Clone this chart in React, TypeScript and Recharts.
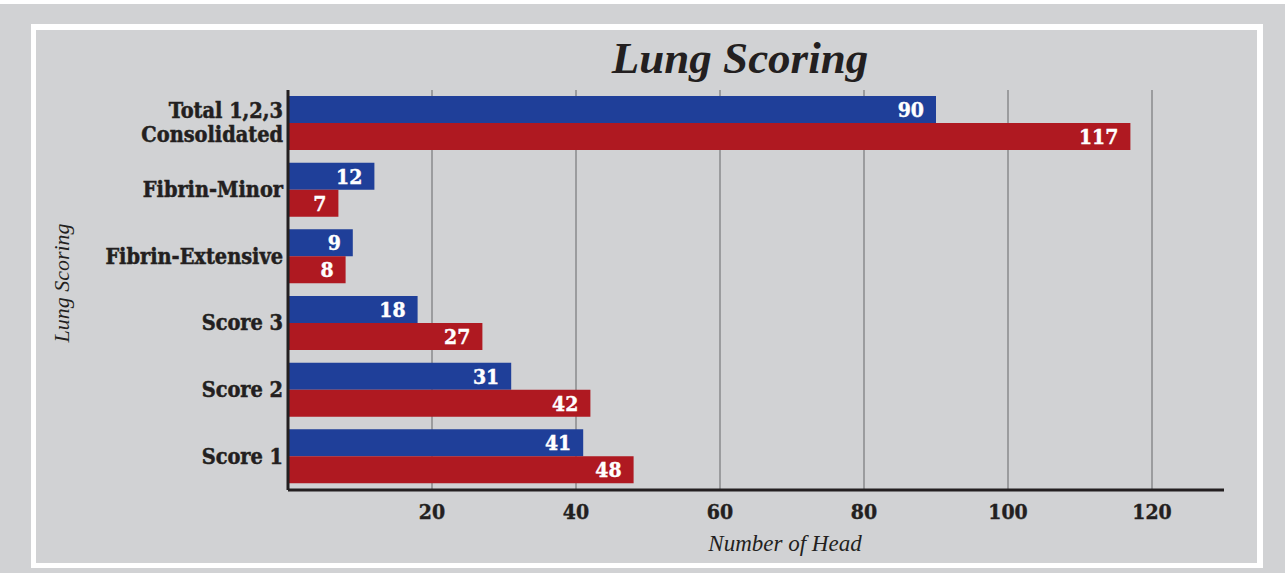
import React from "react";
import { Bar, BarChart, CartesianGrid, LabelList, XAxis, YAxis } from "recharts";

const categories = [
  "Total 1,2,3\nConsolidated",
  "Fibrin-Minor",
  "Fibrin-Extensive",
  "Score 3",
  "Score 2",
  "Score 1",
];
const blueValues = [90, 12, 9, 18, 31, 41];
const redValues = [117, 7, 8, 27, 42, 48];
const xTicks = [20, 40, 60, 80, 100, 120];
const xMax = 130;

const data = categories.map((name, i) => ({
  name,
  blue: blueValues[i],
  red: redValues[i],
}));

const INK = "#231f20";
const BG = "#d1d2d4";
const BLUE = "#1f3f99";
const RED = "#af1921";
const SLAB = "'DejaVu Serif Condensed', 'DejaVu Serif', serif";
const TEXT = "'Liberation Serif', serif";

function CategoryTick(props: any) {
  const { x, y, payload } = props;
  const lines = String(payload.value).split("\n");
  const lineH = 24;
  const first = 7 - ((lines.length - 1) * lineH) / 2;
  return (
    <g>
      {lines.map((l, i) => (
        <text
          key={i}
          x={x}
          y={y + first + i * lineH}
          textAnchor="end"
          fill={INK}
          stroke={INK}
          strokeWidth={0.5}
          fontFamily={SLAB}
          fontWeight="bold"
          fontSize={21.5}
        >
          {l}
        </text>
      ))}
    </g>
  );
}

// grid only at the labelled ticks, not at the domain end
function gridX({ xAxis, offset }: any) {
  return xTicks.map((t) =>
    xAxis && typeof xAxis.scale === "function"
      ? xAxis.scale(t)
      : offset.left + (t / xMax) * offset.width
  );
}

export default function App() {
  return (
    <div style={{ position: "absolute", left: 0, top: 0, width: 1285, height: 573, background: BG, overflow: "hidden" }}>
      <div style={{ position: "absolute", left: 0, top: 0, width: 1285, height: 4, background: "#ffffff" }} />
      <div
        style={{
          position: "absolute",
          left: 31,
          top: 24,
          width: 1232,
          height: 544,
          background: "#ffffff",
        }}
      />
      <div
        style={{
          position: "absolute",
          left: 36,
          top: 30,
          width: 1221,
          height: 533,
          background: BG,
        }}
      />
      <div style={{ position: "absolute", left: 0, top: 0 }}>
        <BarChart
          width={1285}
          height={573}
          data={data}
          layout="vertical"
          margin={{ top: 90, right: 61, bottom: 0, left: 38 }}
          barCategoryGap="9%"
          barGap={0}
        >
          <CartesianGrid
            horizontal={false}
            stroke="#9b9c9e"
            strokeWidth={2}
            verticalCoordinatesGenerator={gridX}
          />
          <XAxis
            type="number"
            domain={[0, xMax]}
            ticks={xTicks}
            height={83}
            axisLine={{ stroke: INK, strokeWidth: 3 }}
            tickLine={false}
            tickSize={0}
            tickMargin={14}
            tick={{ fill: INK, stroke: INK, strokeWidth: 0.4, fontFamily: SLAB, fontWeight: "bold", fontSize: 21 }}
          />
          <YAxis
            type="category"
            dataKey="name"
            width={250}
            axisLine={{ stroke: INK, strokeWidth: 3 }}
            tickLine={false}
            tickSize={0}
            tickMargin={5}
            tick={<CategoryTick />}
            interval={0}
          />
          <Bar dataKey="blue" fill={BLUE} isAnimationActive={false}>
            <LabelList
              dataKey="blue"
              position="insideRight"
              offset={12}
              fill="#ffffff"
              stroke="#ffffff"
              strokeWidth={0.4}
              fontFamily={SLAB}
              fontWeight="bold"
              fontSize={21}
            />
          </Bar>
          <Bar dataKey="red" fill={RED} isAnimationActive={false}>
            <LabelList
              dataKey="red"
              position="insideRight"
              offset={12}
              fill="#ffffff"
              stroke="#ffffff"
              strokeWidth={0.4}
              fontFamily={SLAB}
              fontWeight="bold"
              fontSize={21}
            />
          </Bar>
        </BarChart>
      </div>
      <svg width={1285} height={573} style={{ position: "absolute", left: 0, top: 0, pointerEvents: "none" }}>
        <text x={740} y={73} textAnchor="middle" fill={INK} fontFamily={TEXT} fontWeight="bold" fontStyle="italic" fontSize={45}>
          Lung Scoring
        </text>
        <text x={785} y={551} textAnchor="middle" fill={INK} fontFamily={TEXT} fontStyle="italic" fontSize={23}>
          Number of Head
        </text>
        <text
          x={0}
          y={0}
          transform="translate(69 283) rotate(-90)"
          textAnchor="middle"
          fill={INK}
          fontFamily={TEXT}
          fontStyle="italic"
          fontSize={22}
        >
          Lung Scoring
        </text>
      </svg>
    </div>
  );
}
